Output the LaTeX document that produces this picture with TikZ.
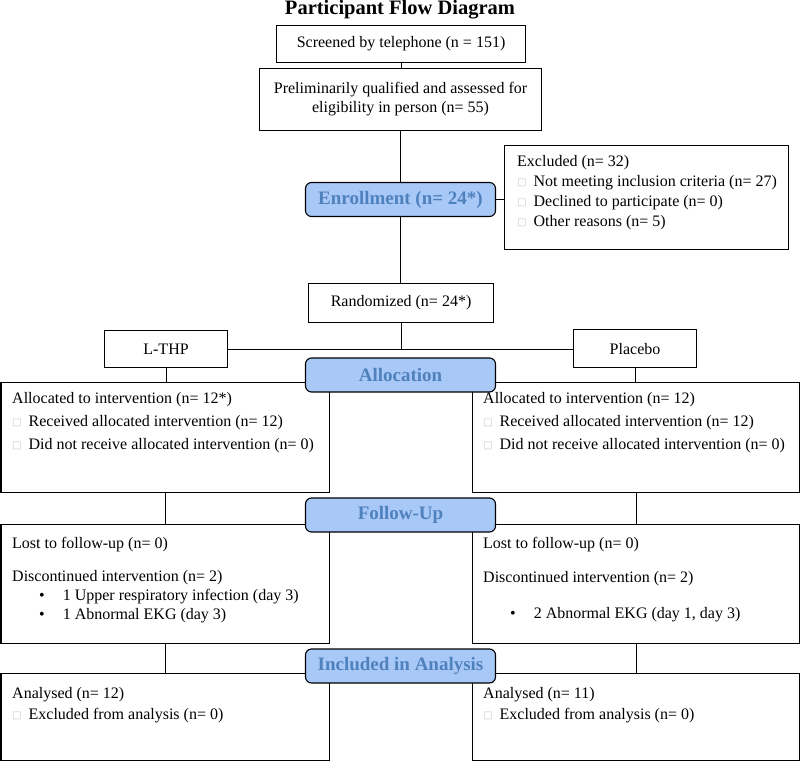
\documentclass[tikz,border=0pt]{standalone}
\usepackage{fontspec}
\setmainfont{Liberation Serif}
\newfontfamily\symfont{DejaVu Sans}
\usetikzlibrary{positioning}

\definecolor{hdrfill}{RGB}{168,200,248}
\definecolor{hdrtext}{RGB}{79,129,189}
% small grey square used as list mark
\newcommand{\sqmark}{\raisebox{1pt}{\symfont\fontsize{10}{10}\selectfont\color{gray!45}□}\hspace{7pt}}
\newcommand{\bul}{\hspace{27pt}\textbullet\hspace{18pt}}

\tikzset{
  box/.style={draw, line width=1.1pt, inner sep=0pt, anchor=north west},
  hdr/.style={draw, line width=1.1pt, rounded corners=6pt, fill=hdrfill, text=hdrtext,
    minimum width=190pt, minimum height=34pt, inner sep=0pt,
    font=\bfseries\fontsize{19}{22}\selectfont},
  txt/.style={inner sep=0pt, align=left, anchor=north west, font=\fontsize{16}{20}\selectfont},
  link/.style={line width=1.1pt}
}

\begin{document}
\begin{tikzpicture}[x=1pt, y=1pt]
\useasboundingbox (0,0) rectangle (800,-760);

\node[anchor=base, font=\bfseries\fontsize{20.5}{24}\selectfont] (title) at (400,-15) {Participant Flow Diagram};

% top part
\node[box, minimum width=249pt, minimum height=37pt, font=\fontsize{16}{20}\selectfont] (screen) at (276,-25) {Screened by telephone (n = 151)};
\node[box, minimum width=282pt, minimum height=62pt, align=center, font=\fontsize{16}{19}\selectfont] (prelim) at (259,-68) {Preliminarily qualified and assessed for\\eligibility in person (n= 55)};
\node[box, minimum width=284pt, minimum height=104pt] (excl) at (504,-145) {};
\node[txt] (excltxt) at (517,-155) {Excluded (n= 32)\\ \sqmark Not meeting inclusion criteria (n= 27)\\ \sqmark Declined to participate (n= 0)\\ \sqmark Other reasons (n= 5)};
\node[box, minimum width=185pt, minimum height=39pt, font=\fontsize{16}{20}\selectfont] (rand) at (308,-283) {Randomized (n= 24*)};
\node[box, minimum width=123pt, minimum height=37pt, font=\fontsize{16}{20}\selectfont] (lthp) at (104,-330) {L-THP};
\node[box, minimum width=123pt, minimum height=38pt, font=\fontsize{16}{20}\selectfont] (placebo) at (573,-329) {Placebo};

% allocation
\node[box, minimum width=328pt, minimum height=110pt] (allocL) at (0.5,-382) {};
\node[box, minimum width=327pt, minimum height=110pt] (allocR) at (472,-382) {};
\node[txt, font=\fontsize{16}{23}\selectfont] (allocLtxt) at (12,-392) {Allocated to intervention (n= 12*)\\ \sqmark Received allocated intervention (n= 12)\\ \sqmark Did not receive allocated intervention (n= 0)};
\node[txt, font=\fontsize{16}{23}\selectfont] (allocRtxt) at (483,-392) {Allocated to intervention (n= 12)\\ \sqmark Received allocated intervention (n= 12)\\ \sqmark Did not receive allocated intervention (n= 0)};

% follow-up
\node[box, minimum width=328pt, minimum height=119pt] (fupL) at (0.5,-524) {};
\node[box, minimum width=327pt, minimum height=119pt] (fupR) at (472,-524) {};
\node[txt, font=\fontsize{16}{19}\selectfont] (fupLtxt) at (12,-537) {Lost to follow-up (n= 0)\\[14pt] Discontinued intervention (n= 2)\\ \bul 1 Upper respiratory infection (day 3)\\ \bul 1 Abnormal EKG (day 3)};
\node[txt, font=\fontsize{16}{19}\selectfont] (fupRtxt) at (483,-537) {Lost to follow-up (n= 0)\\[15pt] Discontinued intervention (n= 2)\\[17pt] \bul 2 Abnormal EKG (day 1, day 3)};

% analysis
\node[box, minimum width=328pt, minimum height=87pt] (anaL) at (0.5,-672.5) {};
\node[box, minimum width=327pt, minimum height=87pt] (anaR) at (472,-672.5) {};
\node[txt, font=\fontsize{16}{21}\selectfont] (anaLtxt) at (12,-687) {Analysed (n= 12)\\ \sqmark Excluded from analysis (n= 0)};
\node[txt, font=\fontsize{16}{21}\selectfont] (anaRtxt) at (483,-687) {Analysed (n= 11)\\ \sqmark Excluded from analysis (n= 0)};

% connectors
\draw[link] (screen.south) -- (screen.south |- prelim.north);
\draw[link] (prelim.south) -- (prelim.south |- rand.north);
\draw[link] (rand.south) -- (rand.south |- lthp.east);
\draw[link] (lthp.east) -- (lthp.east -| placebo.west);
\draw[link] (lthp.south) -- (lthp.south |- allocL.north);
\draw[link] (placebo.south) -- (placebo.south |- allocR.north);
\draw[link] (allocL.south) -- (fupL.north);
\draw[link] (allocR.south) -- (fupR.north);
\draw[link] (fupL.south) -- (anaL.north);
\draw[link] (fupR.south) -- (anaR.north);

% stage headers
\node[hdr] (enroll) at (400.5,-199.5) {Enrollment (n= 24*)};
\node[hdr] (alloc) at (400.5,-375) {Allocation};
\node[hdr] (fup) at (400.5,-515) {Follow-Up};
\node[hdr] (incl) at (400.5,-666) {Included in Analysis};
\draw[link] (enroll.east) -- (enroll.east -| excl.west);
\end{tikzpicture}
\end{document}
